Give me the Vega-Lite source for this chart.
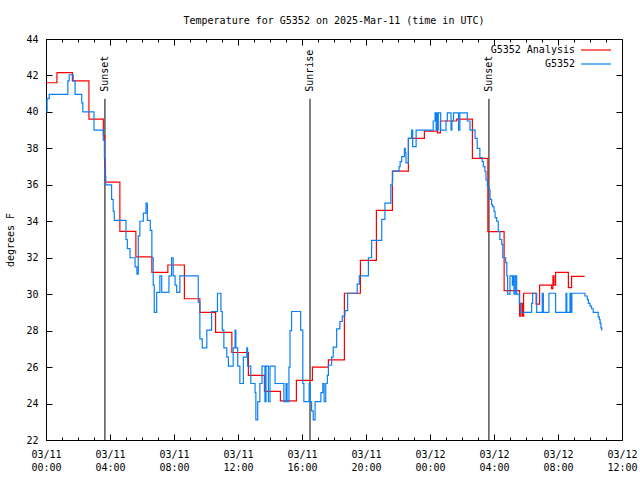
{
  "$schema": "https://vega.github.io/schema/vega-lite/v6.json",
  "width": 576,
  "height": 401,
  "autosize": {"type": "none"},
  "padding": {"left": 46, "top": 39, "right": 18, "bottom": 40},
  "background": "white",
  "title": {"text": "Temperature for G5352 on 2025-Mar-11 (time in UTC)", "font": "DejaVu Sans Mono", "fontSize": 10, "fontWeight": "normal", "anchor": "middle", "offset": 8, "color": "black"},
  "datasets": {
    "events": [
      {"t": "2025-03-11T03:41:00Z", "label": "Sunset"},
      {"t": "2025-03-11T16:30:00Z", "label": "Sunrise"},
      {"t": "2025-03-12T03:41:00Z", "label": "Sunset"}
    ],
    "analysis": [
      {"t": "2025-03-11T00:00:00Z", "v": 41.6, "series": "G5352 Analysis"},
      {"t": "2025-03-11T00:41:00Z", "v": 42.15, "series": "G5352 Analysis"},
      {"t": "2025-03-11T01:39:00Z", "v": 41.7, "series": "G5352 Analysis"},
      {"t": "2025-03-11T02:41:00Z", "v": 39.6, "series": "G5352 Analysis"},
      {"t": "2025-03-11T03:35:00Z", "v": 38.7, "series": "G5352 Analysis"},
      {"t": "2025-03-11T03:40:00Z", "v": 37.0, "series": "G5352 Analysis"},
      {"t": "2025-03-11T03:43:00Z", "v": 36.15, "series": "G5352 Analysis"},
      {"t": "2025-03-11T04:37:00Z", "v": 33.45, "series": "G5352 Analysis"},
      {"t": "2025-03-11T05:37:00Z", "v": 32.05, "series": "G5352 Analysis"},
      {"t": "2025-03-11T06:37:00Z", "v": 31.2, "series": "G5352 Analysis"},
      {"t": "2025-03-11T07:37:00Z", "v": 31.6, "series": "G5352 Analysis"},
      {"t": "2025-03-11T08:39:00Z", "v": 29.75, "series": "G5352 Analysis"},
      {"t": "2025-03-11T09:37:00Z", "v": 29.0, "series": "G5352 Analysis"},
      {"t": "2025-03-11T10:36:00Z", "v": 27.9, "series": "G5352 Analysis"},
      {"t": "2025-03-11T11:37:00Z", "v": 26.8, "series": "G5352 Analysis"},
      {"t": "2025-03-11T12:39:00Z", "v": 25.55, "series": "G5352 Analysis"},
      {"t": "2025-03-11T13:39:00Z", "v": 24.67, "series": "G5352 Analysis"},
      {"t": "2025-03-11T14:39:00Z", "v": 24.15, "series": "G5352 Analysis"},
      {"t": "2025-03-11T15:39:00Z", "v": 25.27, "series": "G5352 Analysis"},
      {"t": "2025-03-11T16:39:00Z", "v": 26.0, "series": "G5352 Analysis"},
      {"t": "2025-03-11T17:39:00Z", "v": 26.4, "series": "G5352 Analysis"},
      {"t": "2025-03-11T18:39:00Z", "v": 30.05, "series": "G5352 Analysis"},
      {"t": "2025-03-11T19:39:00Z", "v": 31.85, "series": "G5352 Analysis"},
      {"t": "2025-03-11T20:39:00Z", "v": 34.6, "series": "G5352 Analysis"},
      {"t": "2025-03-11T21:39:00Z", "v": 36.75, "series": "G5352 Analysis"},
      {"t": "2025-03-11T22:39:00Z", "v": 38.55, "series": "G5352 Analysis"},
      {"t": "2025-03-11T23:39:00Z", "v": 38.95, "series": "G5352 Analysis"},
      {"t": "2025-03-12T00:28:00Z", "v": 38.85, "series": "G5352 Analysis"},
      {"t": "2025-03-12T00:39:00Z", "v": 39.5, "series": "G5352 Analysis"},
      {"t": "2025-03-12T01:40:00Z", "v": 39.6, "series": "G5352 Analysis"},
      {"t": "2025-03-12T02:39:00Z", "v": 37.45, "series": "G5352 Analysis"},
      {"t": "2025-03-12T03:37:00Z", "v": 33.43, "series": "G5352 Analysis"},
      {"t": "2025-03-12T04:38:00Z", "v": 30.2, "series": "G5352 Analysis"},
      {"t": "2025-03-12T05:36:00Z", "v": 28.8, "series": "G5352 Analysis"},
      {"t": "2025-03-12T05:41:00Z", "v": 29.5, "series": "G5352 Analysis"},
      {"t": "2025-03-12T05:47:00Z", "v": 28.8, "series": "G5352 Analysis"},
      {"t": "2025-03-12T05:51:00Z", "v": 30.05, "series": "G5352 Analysis"},
      {"t": "2025-03-12T06:38:00Z", "v": 29.45, "series": "G5352 Analysis"},
      {"t": "2025-03-12T06:51:00Z", "v": 30.5, "series": "G5352 Analysis"},
      {"t": "2025-03-12T07:36:00Z", "v": 30.3, "series": "G5352 Analysis"},
      {"t": "2025-03-12T07:41:00Z", "v": 31.0, "series": "G5352 Analysis"},
      {"t": "2025-03-12T07:45:00Z", "v": 30.5, "series": "G5352 Analysis"},
      {"t": "2025-03-12T07:51:00Z", "v": 31.2, "series": "G5352 Analysis"},
      {"t": "2025-03-12T08:39:00Z", "v": 30.36, "series": "G5352 Analysis"},
      {"t": "2025-03-12T08:51:00Z", "v": 30.98, "series": "G5352 Analysis"},
      {"t": "2025-03-12T09:40:00Z", "v": 30.98, "series": "G5352 Analysis"}
    ],
    "obs": [
      {"t": "2025-03-11T00:00:00Z", "v": 40.0, "series": "G5352"},
      {"t": "2025-03-11T00:04:00Z", "v": 40.73, "series": "G5352"},
      {"t": "2025-03-11T00:12:00Z", "v": 40.96, "series": "G5352"},
      {"t": "2025-03-11T01:22:00Z", "v": 41.7, "series": "G5352"},
      {"t": "2025-03-11T01:27:00Z", "v": 42.04, "series": "G5352"},
      {"t": "2025-03-11T01:42:00Z", "v": 41.7, "series": "G5352"},
      {"t": "2025-03-11T01:49:00Z", "v": 40.96, "series": "G5352"},
      {"t": "2025-03-11T02:14:00Z", "v": 40.5, "series": "G5352"},
      {"t": "2025-03-11T02:18:00Z", "v": 40.0, "series": "G5352"},
      {"t": "2025-03-11T03:00:00Z", "v": 39.0, "series": "G5352"},
      {"t": "2025-03-11T03:35:00Z", "v": 38.45, "series": "G5352"},
      {"t": "2025-03-11T03:39:00Z", "v": 37.5, "series": "G5352"},
      {"t": "2025-03-11T03:42:00Z", "v": 36.45, "series": "G5352"},
      {"t": "2025-03-11T03:44:00Z", "v": 36.0, "series": "G5352"},
      {"t": "2025-03-11T04:06:00Z", "v": 35.2, "series": "G5352"},
      {"t": "2025-03-11T04:12:00Z", "v": 34.55, "series": "G5352"},
      {"t": "2025-03-11T04:16:00Z", "v": 34.05, "series": "G5352"},
      {"t": "2025-03-11T05:00:00Z", "v": 33.0, "series": "G5352"},
      {"t": "2025-03-11T05:05:00Z", "v": 32.5, "series": "G5352"},
      {"t": "2025-03-11T05:15:00Z", "v": 32.0, "series": "G5352"},
      {"t": "2025-03-11T05:34:00Z", "v": 31.5, "series": "G5352"},
      {"t": "2025-03-11T05:41:00Z", "v": 31.1, "series": "G5352"},
      {"t": "2025-03-11T05:46:00Z", "v": 33.2, "series": "G5352"},
      {"t": "2025-03-11T05:52:00Z", "v": 34.0, "series": "G5352"},
      {"t": "2025-03-11T06:05:00Z", "v": 34.45, "series": "G5352"},
      {"t": "2025-03-11T06:15:00Z", "v": 35.0, "series": "G5352"},
      {"t": "2025-03-11T06:20:00Z", "v": 34.05, "series": "G5352"},
      {"t": "2025-03-11T06:31:00Z", "v": 33.5, "series": "G5352"},
      {"t": "2025-03-11T06:37:00Z", "v": 32.0, "series": "G5352"},
      {"t": "2025-03-11T06:42:00Z", "v": 30.5, "series": "G5352"},
      {"t": "2025-03-11T06:46:00Z", "v": 29.0, "series": "G5352"},
      {"t": "2025-03-11T06:55:00Z", "v": 30.1, "series": "G5352"},
      {"t": "2025-03-11T07:07:00Z", "v": 31.0, "series": "G5352"},
      {"t": "2025-03-11T07:14:00Z", "v": 30.1, "series": "G5352"},
      {"t": "2025-03-11T07:41:00Z", "v": 31.0, "series": "G5352"},
      {"t": "2025-03-11T07:51:00Z", "v": 32.0, "series": "G5352"},
      {"t": "2025-03-11T07:57:00Z", "v": 31.0, "series": "G5352"},
      {"t": "2025-03-11T08:04:00Z", "v": 30.5, "series": "G5352"},
      {"t": "2025-03-11T08:10:00Z", "v": 30.1, "series": "G5352"},
      {"t": "2025-03-11T08:22:00Z", "v": 31.0, "series": "G5352"},
      {"t": "2025-03-11T09:31:00Z", "v": 29.55, "series": "G5352"},
      {"t": "2025-03-11T09:37:00Z", "v": 27.55, "series": "G5352"},
      {"t": "2025-03-11T09:46:00Z", "v": 27.05, "series": "G5352"},
      {"t": "2025-03-11T10:03:00Z", "v": 28.03, "series": "G5352"},
      {"t": "2025-03-11T10:21:00Z", "v": 29.05, "series": "G5352"},
      {"t": "2025-03-11T10:43:00Z", "v": 30.05, "series": "G5352"},
      {"t": "2025-03-11T10:56:00Z", "v": 29.05, "series": "G5352"},
      {"t": "2025-03-11T11:01:00Z", "v": 28.03, "series": "G5352"},
      {"t": "2025-03-11T11:07:00Z", "v": 27.05, "series": "G5352"},
      {"t": "2025-03-11T11:18:00Z", "v": 26.55, "series": "G5352"},
      {"t": "2025-03-11T11:24:00Z", "v": 26.05, "series": "G5352"},
      {"t": "2025-03-11T11:42:00Z", "v": 27.05, "series": "G5352"},
      {"t": "2025-03-11T11:49:00Z", "v": 28.03, "series": "G5352"},
      {"t": "2025-03-11T11:52:00Z", "v": 27.05, "series": "G5352"},
      {"t": "2025-03-11T11:59:00Z", "v": 26.05, "series": "G5352"},
      {"t": "2025-03-11T12:07:00Z", "v": 25.1, "series": "G5352"},
      {"t": "2025-03-11T12:20:00Z", "v": 26.55, "series": "G5352"},
      {"t": "2025-03-11T12:33:00Z", "v": 27.05, "series": "G5352"},
      {"t": "2025-03-11T12:36:00Z", "v": 26.05, "series": "G5352"},
      {"t": "2025-03-11T12:48:00Z", "v": 25.1, "series": "G5352"},
      {"t": "2025-03-11T13:04:00Z", "v": 24.6, "series": "G5352"},
      {"t": "2025-03-11T13:07:00Z", "v": 23.1, "series": "G5352"},
      {"t": "2025-03-11T13:14:00Z", "v": 24.1, "series": "G5352"},
      {"t": "2025-03-11T13:22:00Z", "v": 25.1, "series": "G5352"},
      {"t": "2025-03-11T13:30:00Z", "v": 26.05, "series": "G5352"},
      {"t": "2025-03-11T13:41:00Z", "v": 24.1, "series": "G5352"},
      {"t": "2025-03-11T13:45:00Z", "v": 26.05, "series": "G5352"},
      {"t": "2025-03-11T13:54:00Z", "v": 24.1, "series": "G5352"},
      {"t": "2025-03-11T14:00:00Z", "v": 26.05, "series": "G5352"},
      {"t": "2025-03-11T14:19:00Z", "v": 25.1, "series": "G5352"},
      {"t": "2025-03-11T14:52:00Z", "v": 24.1, "series": "G5352"},
      {"t": "2025-03-11T15:00:00Z", "v": 25.1, "series": "G5352"},
      {"t": "2025-03-11T15:04:00Z", "v": 24.1, "series": "G5352"},
      {"t": "2025-03-11T15:11:00Z", "v": 26.0, "series": "G5352"},
      {"t": "2025-03-11T15:15:00Z", "v": 28.0, "series": "G5352"},
      {"t": "2025-03-11T15:21:00Z", "v": 29.05, "series": "G5352"},
      {"t": "2025-03-11T15:55:00Z", "v": 28.03, "series": "G5352"},
      {"t": "2025-03-11T16:03:00Z", "v": 25.1, "series": "G5352"},
      {"t": "2025-03-11T16:07:00Z", "v": 24.1, "series": "G5352"},
      {"t": "2025-03-11T16:27:00Z", "v": 25.1, "series": "G5352"},
      {"t": "2025-03-11T16:30:00Z", "v": 24.1, "series": "G5352"},
      {"t": "2025-03-11T16:36:00Z", "v": 23.6, "series": "G5352"},
      {"t": "2025-03-11T16:42:00Z", "v": 23.1, "series": "G5352"},
      {"t": "2025-03-11T16:49:00Z", "v": 24.1, "series": "G5352"},
      {"t": "2025-03-11T17:11:00Z", "v": 24.6, "series": "G5352"},
      {"t": "2025-03-11T17:18:00Z", "v": 25.1, "series": "G5352"},
      {"t": "2025-03-11T17:23:00Z", "v": 24.1, "series": "G5352"},
      {"t": "2025-03-11T17:29:00Z", "v": 25.1, "series": "G5352"},
      {"t": "2025-03-11T17:35:00Z", "v": 25.55, "series": "G5352"},
      {"t": "2025-03-11T17:39:00Z", "v": 26.1, "series": "G5352"},
      {"t": "2025-03-11T17:51:00Z", "v": 26.55, "series": "G5352"},
      {"t": "2025-03-11T17:57:00Z", "v": 27.1, "series": "G5352"},
      {"t": "2025-03-11T18:10:00Z", "v": 28.1, "series": "G5352"},
      {"t": "2025-03-11T18:22:00Z", "v": 28.5, "series": "G5352"},
      {"t": "2025-03-11T18:31:00Z", "v": 28.8, "series": "G5352"},
      {"t": "2025-03-11T18:41:00Z", "v": 29.1, "series": "G5352"},
      {"t": "2025-03-11T18:51:00Z", "v": 30.05, "series": "G5352"},
      {"t": "2025-03-11T19:27:00Z", "v": 30.55, "series": "G5352"},
      {"t": "2025-03-11T19:35:00Z", "v": 31.0, "series": "G5352"},
      {"t": "2025-03-11T20:09:00Z", "v": 32.0, "series": "G5352"},
      {"t": "2025-03-11T20:21:00Z", "v": 32.95, "series": "G5352"},
      {"t": "2025-03-11T20:59:00Z", "v": 34.1, "series": "G5352"},
      {"t": "2025-03-11T21:11:00Z", "v": 35.0, "series": "G5352"},
      {"t": "2025-03-11T21:33:00Z", "v": 36.0, "series": "G5352"},
      {"t": "2025-03-11T21:39:00Z", "v": 36.2, "series": "G5352"},
      {"t": "2025-03-11T21:40:00Z", "v": 36.75, "series": "G5352"},
      {"t": "2025-03-11T22:04:00Z", "v": 37.0, "series": "G5352"},
      {"t": "2025-03-11T22:08:00Z", "v": 37.27, "series": "G5352"},
      {"t": "2025-03-11T22:14:00Z", "v": 37.55, "series": "G5352"},
      {"t": "2025-03-11T22:24:00Z", "v": 38.0, "series": "G5352"},
      {"t": "2025-03-11T22:27:00Z", "v": 37.75, "series": "G5352"},
      {"t": "2025-03-11T22:30:00Z", "v": 37.2, "series": "G5352"},
      {"t": "2025-03-11T22:39:00Z", "v": 38.55, "series": "G5352"},
      {"t": "2025-03-11T22:51:00Z", "v": 39.0, "series": "G5352"},
      {"t": "2025-03-11T22:55:00Z", "v": 38.1, "series": "G5352"},
      {"t": "2025-03-11T23:08:00Z", "v": 39.0, "series": "G5352"},
      {"t": "2025-03-12T00:12:00Z", "v": 39.5, "series": "G5352"},
      {"t": "2025-03-12T00:19:00Z", "v": 39.95, "series": "G5352"},
      {"t": "2025-03-12T00:23:00Z", "v": 39.0, "series": "G5352"},
      {"t": "2025-03-12T00:25:00Z", "v": 39.95, "series": "G5352"},
      {"t": "2025-03-12T00:29:00Z", "v": 39.0, "series": "G5352"},
      {"t": "2025-03-12T00:31:00Z", "v": 39.95, "series": "G5352"},
      {"t": "2025-03-12T00:40:00Z", "v": 39.0, "series": "G5352"},
      {"t": "2025-03-12T01:00:00Z", "v": 39.5, "series": "G5352"},
      {"t": "2025-03-12T01:05:00Z", "v": 39.95, "series": "G5352"},
      {"t": "2025-03-12T01:19:00Z", "v": 39.0, "series": "G5352"},
      {"t": "2025-03-12T01:22:00Z", "v": 39.5, "series": "G5352"},
      {"t": "2025-03-12T01:28:00Z", "v": 39.95, "series": "G5352"},
      {"t": "2025-03-12T01:47:00Z", "v": 39.0, "series": "G5352"},
      {"t": "2025-03-12T01:52:00Z", "v": 39.95, "series": "G5352"},
      {"t": "2025-03-12T02:20:00Z", "v": 39.5, "series": "G5352"},
      {"t": "2025-03-12T02:30:00Z", "v": 39.0, "series": "G5352"},
      {"t": "2025-03-12T02:49:00Z", "v": 38.55, "series": "G5352"},
      {"t": "2025-03-12T02:57:00Z", "v": 38.0, "series": "G5352"},
      {"t": "2025-03-12T03:07:00Z", "v": 37.5, "series": "G5352"},
      {"t": "2025-03-12T03:16:00Z", "v": 37.27, "series": "G5352"},
      {"t": "2025-03-12T03:20:00Z", "v": 37.0, "series": "G5352"},
      {"t": "2025-03-12T03:26:00Z", "v": 36.73, "series": "G5352"},
      {"t": "2025-03-12T03:30:00Z", "v": 36.27, "series": "G5352"},
      {"t": "2025-03-12T03:35:00Z", "v": 35.9, "series": "G5352"},
      {"t": "2025-03-12T03:41:00Z", "v": 35.73, "series": "G5352"},
      {"t": "2025-03-12T03:45:00Z", "v": 35.2, "series": "G5352"},
      {"t": "2025-03-12T03:51:00Z", "v": 34.9, "series": "G5352"},
      {"t": "2025-03-12T03:55:00Z", "v": 34.8, "series": "G5352"},
      {"t": "2025-03-12T04:00:00Z", "v": 34.55, "series": "G5352"},
      {"t": "2025-03-12T04:04:00Z", "v": 34.2, "series": "G5352"},
      {"t": "2025-03-12T04:10:00Z", "v": 34.0, "series": "G5352"},
      {"t": "2025-03-12T04:16:00Z", "v": 33.45, "series": "G5352"},
      {"t": "2025-03-12T04:22:00Z", "v": 33.0, "series": "G5352"},
      {"t": "2025-03-12T04:29:00Z", "v": 32.73, "series": "G5352"},
      {"t": "2025-03-12T04:33:00Z", "v": 32.0, "series": "G5352"},
      {"t": "2025-03-12T04:44:00Z", "v": 31.73, "series": "G5352"},
      {"t": "2025-03-12T04:48:00Z", "v": 31.0, "series": "G5352"},
      {"t": "2025-03-12T04:51:00Z", "v": 30.0, "series": "G5352"},
      {"t": "2025-03-12T05:00:00Z", "v": 31.0, "series": "G5352"},
      {"t": "2025-03-12T05:09:00Z", "v": 30.5, "series": "G5352"},
      {"t": "2025-03-12T05:12:00Z", "v": 31.0, "series": "G5352"},
      {"t": "2025-03-12T05:15:00Z", "v": 30.0, "series": "G5352"},
      {"t": "2025-03-12T05:20:00Z", "v": 31.0, "series": "G5352"},
      {"t": "2025-03-12T05:25:00Z", "v": 30.0, "series": "G5352"},
      {"t": "2025-03-12T05:35:00Z", "v": 29.5, "series": "G5352"},
      {"t": "2025-03-12T05:41:00Z", "v": 29.0, "series": "G5352"},
      {"t": "2025-03-12T06:21:00Z", "v": 29.5, "series": "G5352"},
      {"t": "2025-03-12T06:25:00Z", "v": 30.05, "series": "G5352"},
      {"t": "2025-03-12T06:40:00Z", "v": 29.0, "series": "G5352"},
      {"t": "2025-03-12T07:01:00Z", "v": 30.05, "series": "G5352"},
      {"t": "2025-03-12T07:05:00Z", "v": 29.0, "series": "G5352"},
      {"t": "2025-03-12T07:26:00Z", "v": 30.05, "series": "G5352"},
      {"t": "2025-03-12T07:51:00Z", "v": 29.0, "series": "G5352"},
      {"t": "2025-03-12T08:30:00Z", "v": 30.05, "series": "G5352"},
      {"t": "2025-03-12T08:33:00Z", "v": 29.0, "series": "G5352"},
      {"t": "2025-03-12T08:45:00Z", "v": 30.05, "series": "G5352"},
      {"t": "2025-03-12T08:49:00Z", "v": 29.0, "series": "G5352"},
      {"t": "2025-03-12T08:52:00Z", "v": 30.05, "series": "G5352"},
      {"t": "2025-03-12T09:41:00Z", "v": 29.9, "series": "G5352"},
      {"t": "2025-03-12T09:50:00Z", "v": 29.7, "series": "G5352"},
      {"t": "2025-03-12T09:54:00Z", "v": 29.5, "series": "G5352"},
      {"t": "2025-03-12T10:00:00Z", "v": 29.35, "series": "G5352"},
      {"t": "2025-03-12T10:06:00Z", "v": 29.2, "series": "G5352"},
      {"t": "2025-03-12T10:12:00Z", "v": 29.0, "series": "G5352"},
      {"t": "2025-03-12T10:31:00Z", "v": 28.75, "series": "G5352"},
      {"t": "2025-03-12T10:35:00Z", "v": 28.6, "series": "G5352"},
      {"t": "2025-03-12T10:38:00Z", "v": 28.4, "series": "G5352"},
      {"t": "2025-03-12T10:41:00Z", "v": 28.15, "series": "G5352"},
      {"t": "2025-03-12T10:44:00Z", "v": 28.0, "series": "G5352"}
    ]
  },
  "config": {
    "view": {"stroke": "black", "strokeWidth": 1},
    "axis": {"grid": false, "domain": false, "tickColor": "black", "tickWidth": 1, "labelColor": "black", "titleColor": "black", "labelFont": "DejaVu Sans Mono", "labelFontSize": 10, "titleFont": "DejaVu Sans Mono", "titleFontSize": 10, "titleFontWeight": "normal"},
    "legend": {"orient": "none", "legendX": 544, "legendY": 5, "symbolType": "M-3,0H3", "symbolSize": 100, "symbolStrokeWidth": 1.2, "labelAlign": "right", "labelOffset": -27, "labelFont": "DejaVu Sans Mono", "labelFontSize": 10, "labelColor": "black", "rowPadding": 3, "padding": 0}
  },
  "resolve": {"axis": {"x": "independent", "y": "independent"}},
  "layer": [
    {
      "data": {"name": "events"},
      "mark": {"type": "rule", "color": "black", "strokeWidth": 1},
      "encoding": {
        "x": {"field": "t", "type": "temporal",
          "scale": {"type": "utc", "domain": [1741651200000, 1741780800000]},
          "axis": {"orient": "bottom", "values": [1741651200000, 1741665600000, 1741680000000, 1741694400000, 1741708800000, 1741723200000, 1741737600000, 1741752000000, 1741766400000, 1741780800000], "tickSize": -6, "labelPadding": 15, "labelExpr": "[utcFormat(datum.value, '%m/%d'), utcFormat(datum.value, '%H:%M')]", "labelFlush": false, "labelOverlap": false, "labelBaseline": "top", "labelLineHeight": 13, "title": null}},
        "y": {"datum": 40.72, "type": "quantitative",
          "scale": {"domain": [22, 44], "nice": false, "zero": false},
          "axis": {"orient": "left", "values": [22, 24, 26, 28, 30, 32, 34, 36, 38, 40, 42, 44], "tickSize": -6, "labelPadding": 14, "title": "degrees F", "titleX": -36, "titleY": 200.5, "titleAngle": 270, "titleAlign": "center", "titleBaseline": "middle"}},
        "y2": {"datum": 22}
      }
    },
    {
      "data": {"name": "events"},
      "mark": {"type": "text", "angle": 270, "align": "left", "baseline": "middle", "font": "DejaVu Sans Mono", "fontSize": 10, "color": "black"},
      "encoding": {
        "x": {"field": "t", "type": "temporal", "axis": {"orient": "top", "values": [1741651200000, 1741665600000, 1741680000000, 1741694400000, 1741708800000, 1741723200000, 1741737600000, 1741752000000, 1741766400000, 1741780800000], "tickSize": -6, "labels": false, "title": null}},
        "y": {"datum": 41.1, "type": "quantitative", "axis": {"orient": "right", "values": [22, 24, 26, 28, 30, 32, 34, 36, 38, 40, 42, 44], "tickSize": -6, "labels": false, "title": null}},
        "text": {"field": "label"}
      }
    },
    {
      "data": {"name": "analysis"},
      "mark": {"type": "line", "interpolate": "step-after", "strokeWidth": 1.2},
      "encoding": {
        "x": {"field": "t", "type": "temporal", "axis": {"orient": "bottom", "values": [1741651200000, 1741654800000, 1741658400000, 1741662000000, 1741665600000, 1741669200000, 1741672800000, 1741676400000, 1741680000000, 1741683600000, 1741687200000, 1741690800000, 1741694400000, 1741698000000, 1741701600000, 1741705200000, 1741708800000, 1741712400000, 1741716000000, 1741719600000, 1741723200000, 1741726800000, 1741730400000, 1741734000000, 1741737600000, 1741741200000, 1741744800000, 1741748400000, 1741752000000, 1741755600000, 1741759200000, 1741762800000, 1741766400000, 1741770000000, 1741773600000, 1741777200000, 1741780800000], "tickSize": -3, "labels": false, "title": null}},
        "y": {"field": "v", "type": "quantitative", "axis": null},
        "color": {"field": "series", "type": "nominal", "scale": {"domain": ["G5352 Analysis", "G5352"], "range": ["#ff0000", "#0a80f5"]}, "legend": {"title": null}}
      }
    },
    {
      "data": {"name": "obs"},
      "mark": {"type": "line", "interpolate": "step-after", "strokeWidth": 1.2},
      "encoding": {
        "x": {"field": "t", "type": "temporal", "axis": {"orient": "top", "values": [1741651200000, 1741654800000, 1741658400000, 1741662000000, 1741665600000, 1741669200000, 1741672800000, 1741676400000, 1741680000000, 1741683600000, 1741687200000, 1741690800000, 1741694400000, 1741698000000, 1741701600000, 1741705200000, 1741708800000, 1741712400000, 1741716000000, 1741719600000, 1741723200000, 1741726800000, 1741730400000, 1741734000000, 1741737600000, 1741741200000, 1741744800000, 1741748400000, 1741752000000, 1741755600000, 1741759200000, 1741762800000, 1741766400000, 1741770000000, 1741773600000, 1741777200000, 1741780800000], "tickSize": -3, "labels": false, "title": null}},
        "y": {"field": "v", "type": "quantitative", "axis": null},
        "color": {"field": "series", "type": "nominal", "legend": {"title": null}}
      }
    }
  ]
}
